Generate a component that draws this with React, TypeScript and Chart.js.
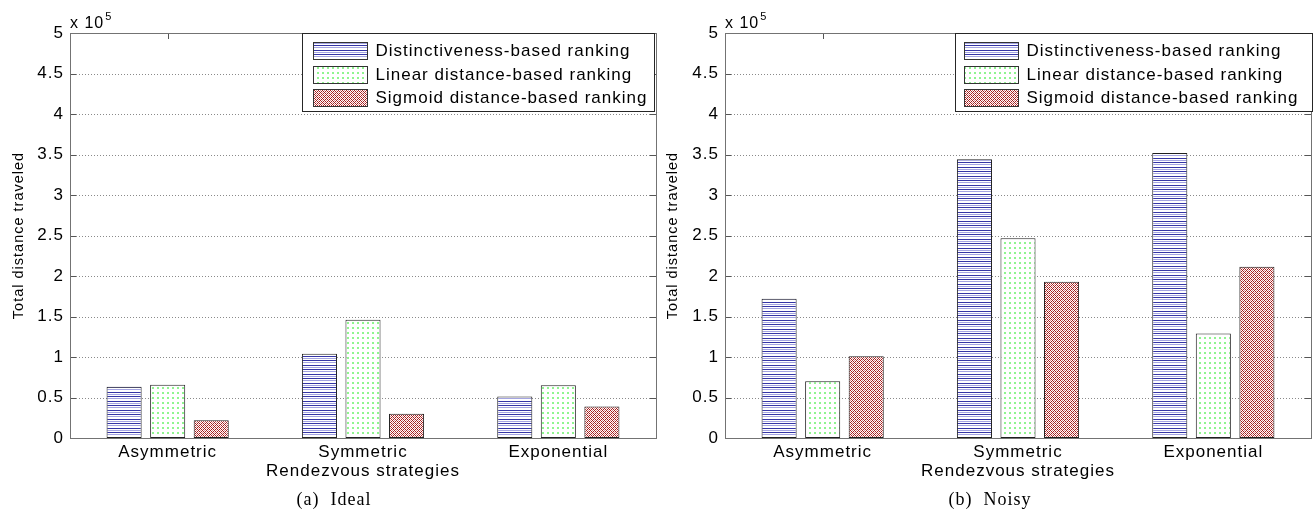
import React, { useEffect, useRef } from 'react';
import { Chart, registerables } from 'chart.js';

Chart.register(...registerables);

// ---------- data ----------
const categories = ['Asymmetric', 'Symmetric', 'Exponential'];
const seriesLabels = [
  'Distinctiveness-based ranking',
  'Linear distance-based ranking',
  'Sigmoid distance-based ranking',
];
const idealDistinctiveness = [63200, 104000, 51200];
const idealLinear = [65700, 146000, 65000];
const idealSigmoid = [22000, 30000, 39000];
const noisyDistinctiveness = [172000, 344000, 352000];
const noisyLinear = [70000, 246500, 129000];
const noisySigmoid = [101000, 193000, 211500];
const yMax = 500000;
const yStep = 50000;
const yScaleDivisor = 100000;
const exponentBase = 'x 10';
const exponentPower = '5';
const yAxisTitle = 'Total distance traveled';
const xAxisTitle = 'Rendezvous strategies';
const captions = ['(a)  Ideal', '(b)  Noisy'];

const FONT = '"Liberation Sans", Arial, Helvetica, sans-serif';
const SERIF = '"Liberation Serif", "Times New Roman", Times, serif';

function makePattern(kind: string): CanvasPattern {
  const c = document.createElement('canvas');
  const g = c.getContext('2d') as CanvasRenderingContext2D;
  if (kind === 'lines') {
    c.width = 4; c.height = 9;
    g.fillStyle = '#ffffff'; g.fillRect(0, 0, 4, 9);
    g.fillStyle = '#3535a6'; g.fillRect(0, 0, 4, 1); g.fillRect(0, 5, 4, 1);
    g.fillStyle = '#a4a4e2'; g.fillRect(0, 2, 4, 1); g.fillRect(0, 7, 4, 1);
  } else if (kind === 'dots') {
    c.width = 5; c.height = 5;
    g.fillStyle = '#ffffff'; g.fillRect(0, 0, 5, 5);
    g.fillStyle = '#8ff58f'; g.fillRect(2, 2, 2, 2);
  } else {
    c.width = 4; c.height = 4;
    g.fillStyle = '#ffffff'; g.fillRect(0, 0, 4, 4);
    g.fillStyle = '#a61e1e';
    [[0, 0], [1, 1], [2, 2], [3, 3], [1, 3], [3, 1]].forEach(([x, y]) => g.fillRect(x, y, 1, 1));
    g.fillStyle = '#d88a8a';
    [[0, 2], [2, 0]].forEach(([x, y]) => g.fillRect(x, y, 1, 1));
  }
  return g.createPattern(c, 'repeat') as CanvasPattern;
}

type PanelCfg = {
  canvasLeft: number;
  canvasWidth: number;
  axisWidth: number;
  padRight: number;
  yTitlePad: number;
  legendDx: number;
  legendW: number;
  patchDx: number;
  captionCenter: number;
  caption: string;
  values: number[][];
};

const panels: PanelCfg[] = [
  {
    canvasLeft: 0, canvasWidth: 664, axisWidth: 70, padRight: 8, yTitlePad: 10,
    legendDx: 232, legendW: 352, patchDx: 10, captionCenter: 334, caption: captions[0],
    values: [idealDistinctiveness, idealLinear, idealSigmoid],
  },
  {
    canvasLeft: 652, canvasWidth: 661, axisWidth: 73, padRight: 2, yTitlePad: 12,
    legendDx: 230, legendW: 357, patchDx: 8, captionCenter: 990, caption: captions[1],
    values: [noisyDistinctiveness, noisyLinear, noisySigmoid],
  },
];

function makeChart(canvas: HTMLCanvasElement, cfg: PanelCfg): Chart {
  const patterns = [makePattern('lines'), makePattern('dots'), makePattern('cross')];

  const spacingPlugin = {
    id: 'spacing',
    beforeUpdate(chart: any) { chart.ctx.letterSpacing = '1px'; },
    beforeDraw(chart: any) { chart.ctx.letterSpacing = '1px'; },
  };

  const framePlugin = {
    id: 'frame',
    beforeDatasetsDraw(chart: any) {
      const { ctx, chartArea: a, scales } = chart;
      const ys = scales.y;
      const xs = scales.x;
      ctx.save();
      ctx.strokeStyle = '#8a8a8a';
      ctx.lineWidth = 1;
      ctx.setLineDash([1, 2]);
      ys.ticks.forEach((t: any) => {
        if (t.value <= 0 || t.value >= yMax) return;
        const y = Math.round(ys.getPixelForValue(t.value)) + 0.5;
        ctx.beginPath(); ctx.moveTo(a.left, y); ctx.lineTo(a.right, y); ctx.stroke();
      });
      ctx.setLineDash([]);
      ctx.strokeStyle = '#555555';
      ys.ticks.forEach((t: any) => {
        const y = Math.round(ys.getPixelForValue(t.value)) + 0.5;
        ctx.beginPath(); ctx.moveTo(a.left, y); ctx.lineTo(a.left + 6, y); ctx.stroke();
        ctx.beginPath(); ctx.moveTo(a.right, y); ctx.lineTo(a.right - 6, y); ctx.stroke();
      });
      categories.forEach((_, i) => {
        const x = Math.round(xs.getPixelForValue(i)) + 0.5;
        ctx.beginPath(); ctx.moveTo(x, a.top); ctx.lineTo(x, a.top + 6); ctx.stroke();
        ctx.beginPath(); ctx.moveTo(x, a.bottom); ctx.lineTo(x, a.bottom - 6); ctx.stroke();
      });
      ctx.strokeStyle = '#737373';
      ctx.strokeRect(Math.round(a.left) + 0.5, Math.round(a.top) + 0.5,
        Math.round(a.right - a.left), Math.round(a.bottom - a.top));
      ctx.restore();
    },
  };

  const overlayPlugin = {
    id: 'overlay',
    afterDraw(chart: any) {
      const { ctx, chartArea: a } = chart;
      ctx.save();
      ctx.letterSpacing = '1px';
      ctx.fillStyle = '#000';
      ctx.textBaseline = 'alphabetic';
      ctx.textAlign = 'left';
      ctx.font = `16px ${FONT}`;
      ctx.fillText(exponentBase, a.left, 28);
      const w = ctx.measureText(exponentBase).width;
      ctx.font = `11px ${FONT}`;
      ctx.fillText(exponentPower, a.left + w + 1, 20);
      const bx = Math.round(a.left + cfg.legendDx) + 0.5;
      const by = Math.round(a.top) + 0.5;
      const bh = 78;
      ctx.fillStyle = '#ffffff';
      ctx.fillRect(bx, by, cfg.legendW, bh);
      ctx.strokeStyle = '#262626';
      ctx.lineWidth = 1;
      ctx.strokeRect(bx, by, cfg.legendW, bh);
      ctx.font = `17px ${FONT}`;
      ctx.textBaseline = 'middle';
      chart.data.datasets.forEach((ds: any, i: number) => {
        const px = Math.round(bx + cfg.patchDx) + 0.5;
        const py = Math.round(by + 8.5 + i * 23.5) + 0.5;
        ctx.fillStyle = ds.backgroundColor;
        ctx.fillRect(px, py, 54, 17);
        ctx.strokeStyle = '#333333';
        ctx.strokeRect(px, py, 54, 17);
        ctx.fillStyle = '#000';
        ctx.fillText(ds.label, px + 62, py + 9);
      });
      ctx.restore();
    },
  };

  return new Chart(canvas, {
    type: 'bar',
    data: {
      labels: categories,
      datasets: cfg.values.map((vals, i) => ({
        label: seriesLabels[i],
        data: vals,
        backgroundColor: patterns[i],
        borderColor: '#1f1f1f',
        borderWidth: 1,
        borderSkipped: false,
        categoryPercentage: 0.669,
        barPercentage: 0.805,
      })),
    },
    options: {
      responsive: false,
      animation: false,
      devicePixelRatio: 1,
      layout: { padding: { left: 0, top: 33, right: cfg.padRight, bottom: 0 } },
      plugins: { legend: { display: false }, tooltip: { enabled: false } },
      scales: {
        x: {
          ticks: { font: { family: FONT, size: 17 }, color: '#000', padding: 4, maxRotation: 0, autoSkip: false },
          grid: { display: false, drawTicks: false },
          border: { display: false },
          title: {
            display: true, text: xAxisTitle, color: '#000',
            font: { family: FONT, size: 17 }, padding: { top: 0, bottom: 38 },
          },
          afterFit: (s: any) => { s.height = 82; },
        },
        y: {
          min: 0, max: yMax,
          ticks: {
            stepSize: yStep, color: '#000', padding: 6,
            font: { family: FONT, size: 17 },
            callback: (v: any) => String(Number(v) / yScaleDivisor),
          },
          grid: { display: false, drawTicks: false },
          border: { display: false },
          title: {
            display: true, text: yAxisTitle, color: '#000',
            font: { family: FONT, size: 14.5 }, padding: { top: cfg.yTitlePad, bottom: 0 },
          },
          afterFit: (s: any) => { s.width = cfg.axisWidth; },
        },
      },
    } as any,
    plugins: [spacingPlugin, framePlugin, overlayPlugin],
  });
}

export default function App() {
  const refA = useRef<HTMLCanvasElement | null>(null);
  const refB = useRef<HTMLCanvasElement | null>(null);

  useEffect(() => {
    const charts: Chart[] = [];
    const refs = [refA, refB];
    panels.forEach((p, i) => {
      const c = refs[i].current;
      if (c) charts.push(makeChart(c, p));
    });
    return () => charts.forEach((c) => c.destroy());
  }, []);

  return (
    <div style={{ position: 'absolute', left: 0, top: 0, width: 1313, height: 520, background: '#fff', overflow: 'hidden' }}>
      {panels.map((p, i) => (
        <canvas
          key={i}
          ref={i === 0 ? refA : refB}
          width={p.canvasWidth}
          height={520}
          style={{ position: 'absolute', left: p.canvasLeft, top: 0, width: p.canvasWidth, height: 520, display: 'block' }}
        />
      ))}
      {panels.map((p, i) => (
        <div
          key={'cap' + i}
          style={{
            position: 'absolute', left: p.captionCenter - 100, top: 488, width: 200, height: 22,
            textAlign: 'center', font: `18px ${SERIF}`, lineHeight: '22px', letterSpacing: '1px',
            whiteSpace: 'pre', color: '#000',
          }}
        >
          {p.caption}
        </div>
      ))}
    </div>
  );
}
